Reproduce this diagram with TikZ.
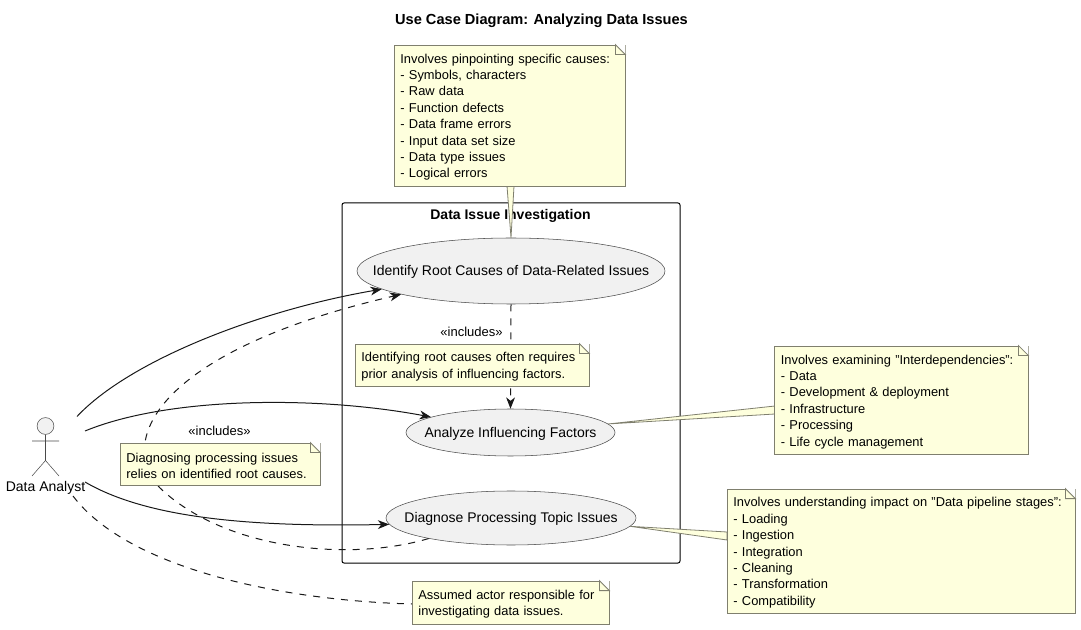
\documentclass[tikz,border=0pt]{standalone}
\usepackage{fontspec}
\setmainfont{Liberation Sans}
\usetikzlibrary{arrows.meta,shapes.geometric}
\definecolor{inkc}{HTML}{181818}
\definecolor{thinc}{HTML}{4A4A4A}
\definecolor{notefill}{HTML}{FEFFDD}
\definecolor{noteedge}{HTML}{7F7F6E}
\definecolor{ucfill}{HTML}{F1F1F1}
\tikzset{
  usecase/.style={ellipse,draw=thinc,fill=ucfill,line width=0.4pt,inner sep=0pt},
  notebox/.style={rectangle,draw=noteedge,fill=notefill,line width=0.6pt,inner sep=0pt,align=left,font=\fontsize{9.65}{12.3}\selectfont},
  notetail/.style={draw=noteedge,fill=notefill,line width=0.6pt,line join=miter},
  flow/.style={draw=inkc,line width=0.75pt,-{Stealth[length=8.5pt,width=6.6pt,inset=2.6pt]}},
  dashflow/.style={flow,dash pattern=on 5.25pt off 5.25pt},
  dashplain/.style={draw=inkc,line width=0.75pt,dash pattern=on 5.25pt off 5.25pt},
  limb/.style={draw=thinc,line width=0.4pt},
  txt/.style={inner sep=0pt,font=\fontsize{10.5}{12}\selectfont},
  smalltxt/.style={inner sep=0pt,font=\fontsize{9.75}{12}\selectfont},
  boldtxt/.style={inner sep=0pt,font=\bfseries\fontsize{10.5}{12}\selectfont}
}
\newcommand{\mknote}[6]{%
  \pgfmathsetmacro{\nw}{(#4-#2)*0.75}%
  \pgfmathsetmacro{\nh}{(#5-#3)*0.75}%
  \pgfmathsetmacro{\ntw}{\nw-9.6}%
  \node[notebox,minimum width=\nw pt,minimum height=\nh pt,text width=\ntw pt,inner xsep=4.8pt] (#1) at ({(#2+#4)/2},{(#3+#5)/2}) {\rule{0pt}{9.6pt}#6};%
  \fill[white] (#1.north east) -- ++(-10,0) -- ++(10,10) -- cycle;%
  \draw[noteedge,line width=0.6pt,fill=notefill] (#1.north east) ++(-10,0) -- ++(0,10) -- ++(10,0) -- cycle;%
}
\begin{document}
\begin{tikzpicture}[x=0.75pt,y=-0.75pt]
\useasboundingbox (0,0) rectangle (1081,630);
% title
\node[inner sep=0pt,font=\bfseries\fontsize{10.95}{12}\selectfont] (title) at (541.5,21) {Use Case Diagram: Analyzing Data Issues};
% system boundary
\draw[black,line width=0.75pt,rounded corners=1.5pt] (342,203) rectangle (680,563);
\node[boldtxt] (systitle) at (510.5,215.5) {Data Issue Investigation};
% actor
\node[circle,draw=thinc,fill=ucfill,line width=0.4pt,minimum size=12.6pt,inner sep=0pt] (head) at (45.5,426) {};
\coordinate (hip) at (45.5,460.5);
\coordinate (armL) at (32,441);
\coordinate (armR) at (59,441);
\coordinate (legL) at (32,476);
\coordinate (legR) at (59,476);
\draw[limb] (head.south) -- (hip) (armL) -- (armR) (legL) -- (hip) -- (legR);
\node[txt] (analyst) at (45.5,487.5) {Data Analyst};
\coordinate (a1) at (77,416.5);
\coordinate (a2) at (85,431);
\coordinate (a3) at (85,482);
\coordinate (a4) at (73,496);
% use cases
\node[usecase,minimum width=231pt,minimum height=49.5pt,label={[txt,name=e1t,yshift=-0.75pt]center:Identify Root Causes of Data-Related Issues}] (e1) at (511,271) {};
\node[usecase,minimum width=156.75pt,minimum height=35.25pt,label={[txt,name=e2t,yshift=-0.75pt]center:Analyze Influencing Factors}] (e2) at (510.5,432.5) {};
\node[usecase,minimum width=187.5pt,minimum height=40.5pt,label={[txt,name=e3t,yshift=-0.75pt]center:Diagnose Processing Topic Issues}] (e3) at (511,518) {};
% connectors
\draw[flow] (a1) .. controls (130,360) and (260,310) .. (e1.188.6);
\draw[flow] (a2) .. controls (170,396) and (320,396) .. (e2.169);
\draw[flow] (a3) .. controls (150,520) and (260,527) .. (e3.183);
\draw[dashflow] (e3.194) .. controls (350,562) and (225,550) .. (160,488) .. controls (115,440) and (160,350) .. (e1.192.8);
\draw[dashflow] (e1.south) -- (e2.north);
\draw[dashplain] (a4) .. controls (125,565) and (270,600) .. (412,604);
\node[smalltxt] (inc1) at (471.5,332) {«includes»};
\node[smalltxt] (inc2) at (219.5,431) {«includes»};
% note tails
\draw[notetail] (507,186) -- (e1.north) -- (514,186) -- cycle;
\draw[notetail] (775,406) -- (e2.5.2) -- (775,414) -- cycle;
\draw[notetail] (727,532) -- (e3.-4.6) -- (727,540) -- cycle;
% notes
\mknote{n1}{394}{45}{625}{186}{Involves pinpointing specific causes:\\- Symbols, characters\\- Raw data\\- Function defects\\- Data frame errors\\- Input data set size\\- Data type issues\\- Logical errors}
\mknote{n2}{355}{344}{589}{386}{Identifying root causes often requires\\prior analysis of influencing factors.}
\mknote{n3}{774.5}{346}{1028}{454}{Involves examining "Interdependencies":\\- Data\\- Development \& deployment\\- Infrastructure\\- Processing\\- Life cycle management}
\mknote{n4}{727}{489}{1075}{613}{Involves understanding impact on "Data pipeline stages":\\- Loading\\- Ingestion\\- Integration\\- Cleaning\\- Transformation\\- Compatibility}
\mknote{n5}{412}{581}{609}{624}{Assumed actor responsible for\\investigating data issues.}
\mknote{n6}{120}{443}{320}{485}{Diagnosing processing issues\\relies on identified root causes.}
\end{tikzpicture}
\end{document}
